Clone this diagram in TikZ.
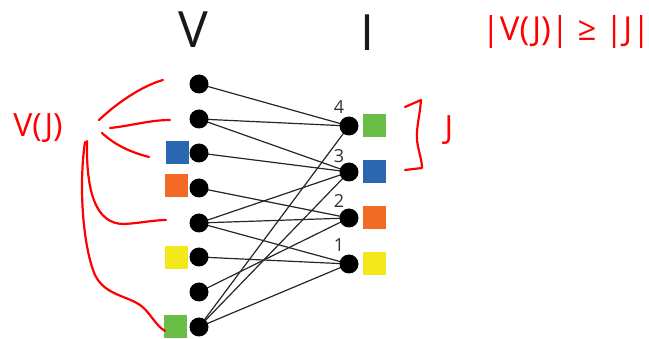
\documentclass[tikz,border=0pt]{standalone}
\usepackage{fontspec}
\setmainfont{Open Sans}
\usetikzlibrary{backgrounds}
\definecolor{sqgreen}{HTML}{6ABD45}
\definecolor{sqblue}{HTML}{2B67B1}
\definecolor{sqorange}{HTML}{F26A23}
\definecolor{sqyellow}{HTML}{F2E81A}
\definecolor{ink}{HTML}{FF0000}
\tikzset{
  dot/.style={circle, fill=black, inner sep=0pt, minimum size=19pt},
  sq/.style={rectangle, inner sep=0pt, minimum size=23pt},
  edge/.style={draw=black!85, line width=1.2pt},
  pen/.style={draw=ink, line width=2.2pt, line cap=round, line join=round},
  hand/.style={text=ink, font=\fontsize{32}{34}\selectfont},
  title/.style={font=\fontsize{50}{52}\selectfont, text=black!90},
  num/.style={font=\fontsize{18}{19}\selectfont, text=black!80},
}
\begin{document}
\begin{tikzpicture}[x=1pt,y=-1pt]
\useasboundingbox (0,0) rectangle (649,339);
% titles
\node[title] (tV) at (193,30) {V};
\node[title] (tI) at (367,33) {I};
% left nodes
\node[dot] (L1) at (199,84) {};
\node[dot] (L2) at (199,119) {};
\node[dot] (L3) at (199,153) {};
\node[dot] (L4) at (199,188) {};
\node[dot] (L5) at (199,223) {};
\node[dot] (L6) at (199,257) {};
\node[dot] (L7) at (199,292) {};
\node[dot] (L8) at (199,327) {};
% right nodes
\node[dot] (R4) at (349,126) {};
\node[dot] (R3) at (349,172) {};
\node[dot] (R2) at (349,218) {};
\node[dot] (R1) at (349,264) {};
% numbers
\node[num] (n4) at (339,107) {4};
\node[num] (n3) at (339,156) {3};
\node[num] (n2) at (339,201) {2};
\node[num] (n1) at (339,245) {1};
% right squares
\node[sq, fill=sqgreen] (sR4) at (374,126) {};
\node[sq, fill=sqblue] (sR3) at (374,172) {};
\node[sq, fill=sqorange] (sR2) at (374,218) {};
\node[sq, fill=sqyellow] (sR1) at (374,264) {};
% left squares
\node[sq, fill=sqblue] (sL3) at (177,153) {};
\node[sq, fill=sqorange] (sL4) at (176,186) {};
\node[sq, fill=sqyellow] (sL6) at (176,258) {};
\node[sq, fill=sqgreen] (sL8) at (175,327) {};
% edges
\begin{scope}[on background layer]
\draw[edge] (L1.center) -- (R4.center);
\draw[edge] (L2.center) -- (R4.center);
\draw[edge] (L2.center) -- (R3.center);
\draw[edge] (L3.center) -- (R3.center);
\draw[edge] (L4.center) -- (R2.center);
\draw[edge] (L5.center) -- (R3.center);
\draw[edge] (L5.center) -- (R2.center);
\draw[edge] (L5.center) -- (R1.center);
\draw[edge] (L6.center) -- (R1.center);
\draw[edge] (L7.center) -- (R2.center);
\draw[edge] (L8.center) -- (R4.center);
\draw[edge] (L8.center) -- (R3.center);
\draw[edge] (L8.center) -- (R1.center);
\end{scope}
% red annotations
\node[hand] (VJ) at (38,128) {V(J)};
\coordinate (c1a) at (99,120);
\coordinate (c1b) at (163,80);
\draw[pen] (c1a) .. controls (120,100) and (145,85) .. (c1b);
\coordinate (c2a) at (110,128);
\coordinate (c2b) at (170,120);
\draw[pen] (c2a) .. controls (130,126) and (150,120) .. (c2b);
\coordinate (c3a) at (102,133);
\coordinate (c3b) at (149,157);
\draw[pen] (c3a) .. controls (115,145) and (130,152) .. (c3b);
\coordinate (c4a) at (87,141);
\coordinate (c4b) at (166,220);
\draw[pen] (c4a) .. controls (86,190) and (95,225) .. (125,224) .. controls (140,223) and (155,220) .. (c4b);
\coordinate (c5a) at (85,142);
\coordinate (c5b) at (165,331);
\draw[pen] (c5a) .. controls (78,190) and (84,250) .. (95,275) .. controls (105,295) and (125,295) .. (140,305) .. controls (150,312) and (155,325) .. (c5b);
% J bracket
\coordinate (b1) at (405,107);
\coordinate (b2) at (421,100);
\coordinate (b3) at (417,140);
\coordinate (b4) at (422,168);
\coordinate (b5) at (405,170);
\draw[pen] (b1) -- (b2) .. controls (420,115) and (416,128) .. (b3) .. controls (418,150) and (422,160) .. (b4) -- (b5);
\node[hand] (Jl) at (449,130) {J};
\node[hand, font=\fontsize{33}{35}\selectfont] (ineq) at (566,32) {|V(J)| ≥ |J|};
\end{tikzpicture}
\end{document}
